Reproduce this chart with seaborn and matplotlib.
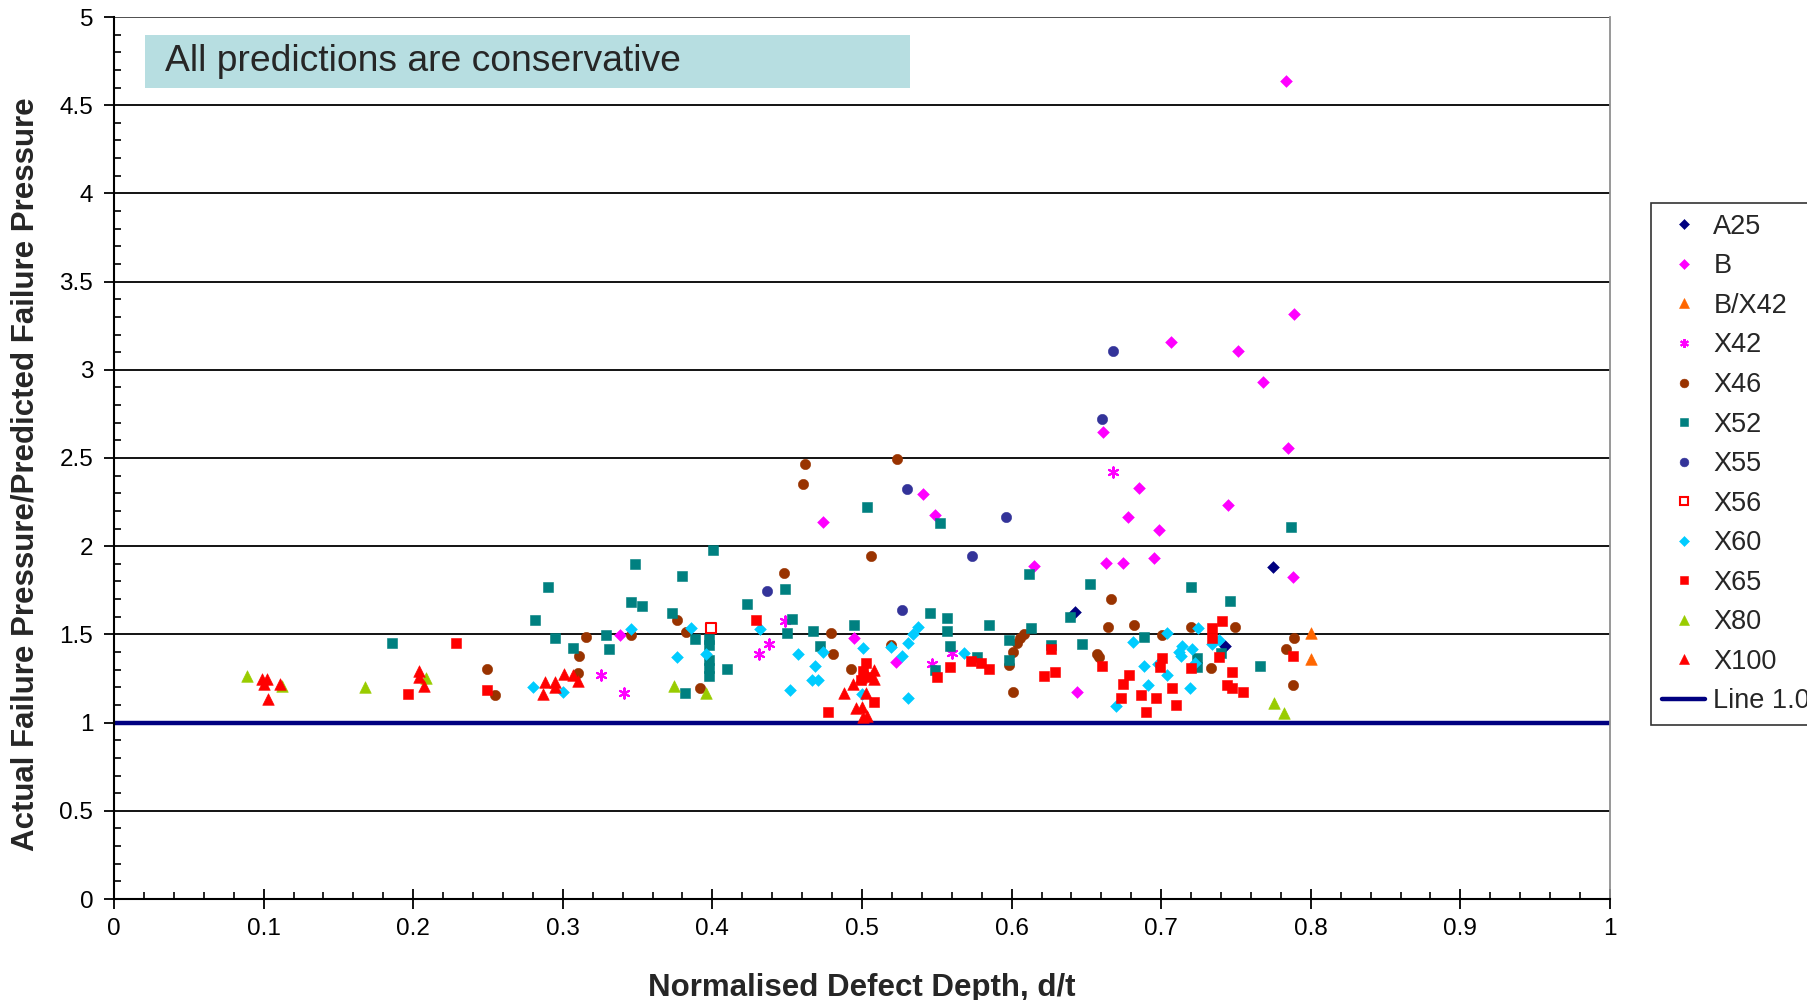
import matplotlib
matplotlib.use("Agg")
import matplotlib.pyplot as plt
from matplotlib.patches import Rectangle
from matplotlib.lines import Line2D
from matplotlib.ticker import MultipleLocator, FuncFormatter
import seaborn as sns
import pandas as pd

# ---- data: normalised defect depth (d/t) and actual/predicted failure pressure ----
a25_x = [0.6424, 0.7745, 0.7426]
a25_y = [1.629, 1.88, 1.434]

b_x = [0.7834, 0.789, 0.7063, 0.7516, 0.768, 0.6613, 0.7845, 0.541, 0.6854, 0.7449,
       0.5488, 0.6776, 0.4741, 0.6985, 0.6742, 0.6633, 0.6954, 0.615, 0.7879, 0.3385,
       0.4949, 0.5225, 0.6435]
b_y = [4.637, 3.315, 3.156, 3.108, 2.933, 2.645, 2.555, 2.296, 2.332, 2.232,
       2.177, 2.167, 2.139, 2.092, 1.907, 1.907, 1.935, 1.89, 1.823, 1.498,
       1.481, 1.342, 1.175]

bx42_x = [0.800, 0.800]
bx42_y = [1.506, 1.36]

x42_x = [0.668, 0.3253, 0.3409, 0.4376, 0.4309, 0.4487, 0.5599, 0.5465]
x42_y = [2.422, 1.268, 1.166, 1.444, 1.389, 1.576, 1.393, 1.332]

x46_x = [0.4619, 0.4608, 0.5236, 0.5058, 0.4476, 0.6667, 0.249, 0.2547, 0.3104, 0.311,
         0.3155, 0.3453, 0.3761, 0.3823, 0.3917, 0.4795, 0.4808, 0.4929, 0.5192, 0.5985,
         0.6012, 0.6034, 0.6056, 0.6083, 0.6007, 0.6569, 0.6584, 0.6647, 0.682, 0.7003,
         0.7197, 0.7493, 0.733, 0.789, 0.7834, 0.7879]
x46_y = [2.464, 2.351, 2.493, 1.944, 1.85, 1.703, 1.304, 1.156, 1.279, 1.377,
         1.487, 1.497, 1.582, 1.515, 1.194, 1.508, 1.387, 1.304, 1.438, 1.327,
         1.398, 1.449, 1.478, 1.502, 1.175, 1.387, 1.37, 1.544, 1.553, 1.497,
         1.544, 1.544, 1.308, 1.481, 1.415, 1.213]

x52_x = [0.1856, 0.2814, 0.2903, 0.2948, 0.307, 0.3286, 0.3309, 0.3453, 0.3532, 0.3485,
         0.3728, 0.3794, 0.3884, 0.3814, 0.4002, 0.3979, 0.3979, 0.3979, 0.3979, 0.3979,
         0.410, 0.4234, 0.4487, 0.4532, 0.4499, 0.4675, 0.4719, 0.4949, 0.5036, 0.5521,
         0.5457, 0.5566, 0.5566, 0.5588, 0.5488, 0.5767, 0.5851, 0.5985, 0.5985, 0.613,
         0.6118, 0.6261, 0.6524, 0.6393, 0.647, 0.6887, 0.7197, 0.746, 0.7397, 0.7241,
         0.7241, 0.766, 0.7868]
x52_y = [1.453, 1.582, 1.767, 1.479, 1.425, 1.498, 1.415, 1.684, 1.663, 1.897,
         1.619, 1.831, 1.472, 1.17, 1.978, 1.472, 1.44, 1.355, 1.308, 1.264,
         1.304, 1.672, 1.757, 1.589, 1.506, 1.519, 1.434, 1.553, 2.22, 2.13,
         1.619, 1.591, 1.521, 1.434, 1.298, 1.373, 1.553, 1.468, 1.355, 1.534,
         1.841, 1.44, 1.786, 1.60, 1.444, 1.487, 1.767, 1.691, 1.393, 1.364,
         1.317, 1.323, 2.111]

x55_x = [0.668, 0.6602, 0.5298, 0.5963, 0.5733, 0.4367, 0.527]
x55_y = [3.108, 2.719, 2.322, 2.164, 1.944, 1.748, 1.636]

x56_x = [0.399]
x56_y = [1.534]

x60_x = [0.2803, 0.300, 0.3453, 0.3859, 0.3761, 0.396, 0.4318, 0.4519, 0.4574, 0.4741,
         0.4686, 0.4663, 0.4708, 0.5004, 0.4997, 0.5192, 0.5267, 0.531, 0.531, 0.5377,
         0.5343, 0.5684, 0.6698, 0.6809, 0.7041, 0.7248, 0.7342, 0.7386, 0.7137, 0.7121,
         0.7135, 0.7208, 0.7226, 0.698, 0.6887, 0.7041, 0.6909, 0.7194]
x60_y = [1.204, 1.175, 1.528, 1.536, 1.37, 1.389, 1.529, 1.185, 1.387, 1.398,
         1.323, 1.241, 1.241, 1.425, 1.16, 1.43, 1.378, 1.453, 1.138, 1.544,
         1.50, 1.396, 1.096, 1.455, 1.51, 1.534, 1.446, 1.468, 1.434, 1.402,
         1.38, 1.415, 1.336, 1.33, 1.323, 1.27, 1.213, 1.194]

x65_x = [0.2284, 0.1965, 0.2495, 0.4289, 0.4775, 0.503, 0.501, 0.505, 0.499, 0.508,
         0.5499, 0.5588, 0.5729, 0.5795, 0.5851, 0.6261, 0.6217, 0.6292, 0.6602, 0.7342,
         0.7342, 0.7406, 0.7384, 0.7197, 0.7004, 0.6992, 0.6787, 0.6742, 0.6731, 0.6865,
         0.6965, 0.6898, 0.7074, 0.7097, 0.747, 0.7437, 0.747, 0.7549, 0.7879]
x65_y = [1.453, 1.164, 1.185, 1.582, 1.062, 1.336, 1.29, 1.26, 1.24, 1.119,
         1.26, 1.313, 1.351, 1.34, 1.304, 1.415, 1.266, 1.287, 1.323, 1.534,
         1.478, 1.574, 1.37, 1.308, 1.364, 1.317, 1.27, 1.219, 1.138, 1.156,
         1.138, 1.062, 1.194, 1.10, 1.285, 1.213, 1.194, 1.175, 1.378]

x80_x = [0.089, 0.112, 0.1675, 0.2083, 0.3745, 0.3957, 0.7756, 0.7823]
x80_y = [1.264, 1.205, 1.20, 1.251, 1.209, 1.17, 1.109, 1.056]

x100_x = [0.099, 0.1025, 0.100, 0.103, 0.111, 0.2039, 0.204, 0.2075, 0.288, 0.287,
          0.2948, 0.2948, 0.301, 0.307, 0.31, 0.488, 0.494, 0.499, 0.503, 0.508,
          0.508, 0.503, 0.4957, 0.5, 0.5009, 0.5033]
x100_y = [1.25, 1.245, 1.22, 1.135, 1.22, 1.294, 1.26, 1.21, 1.232, 1.162,
          1.232, 1.203, 1.275, 1.27, 1.236, 1.17, 1.219, 1.26, 1.28, 1.298,
          1.245, 1.166, 1.081, 1.09, 1.033, 1.04]

line_x = [0.0, 1.0]
line_y = [1.0, 1.0]

x_ticks = [0, 0.1, 0.2, 0.3, 0.4, 0.5, 0.6, 0.7, 0.8, 0.9, 1]
y_ticks = [0, 0.5, 1, 1.5, 2, 2.5, 3, 3.5, 4, 4.5, 5]

# name, x, y, marker, face colour, edge colour, size
series = [
    ("A25", a25_x, a25_y, "D", "#000080", "#000080", 36),
    ("B", b_x, b_y, "D", "#FF00FF", "#FF00FF", 36),
    ("B/X42", bx42_x, bx42_y, "^", "#FF6600", "#FF6600", 70),
    ("X42", x42_x, x42_y, (6, 2, 0), "#FF00FF", "#FF00FF", 55),
    ("X46", x46_x, x46_y, "o", "#993300", "#993300", 55),
    ("X52", x52_x, x52_y, "s", "#008080", "#008080", 50),
    ("X55", x55_x, x55_y, "o", "#333399", "#333399", 55),
    ("X56", x56_x, x56_y, "s", "white", "#FF0000", 42),
    ("X60", x60_x, x60_y, "D", "#00CCFF", "#00CCFF", 36),
    ("X65", x65_x, x65_y, "s", "#FF0000", "#FF0000", 50),
    ("X80", x80_x, x80_y, "^", "#99CC00", "#99CC00", 70),
    ("X100", x100_x, x100_y, "^", "#FF0000", "#FF0000", 70),
]

sns.set_style("white")
plt.rcParams["font.family"] = ["Liberation Sans", "DejaVu Sans"]

fig = plt.figure(figsize=(18.07, 10.0), dpi=100)
ax = fig.add_axes([114 / 1807, 0.101, (1610 - 114) / 1807, 0.882])

# horizontal gridlines at every 0.5
for yv in y_ticks[1:]:
    ax.axhline(yv, color="#000000" if yv < 5 else "#404040", lw=1.3, zorder=1)

handles = []
for name, xs, ys, mk, fc, ec, sz in series:
    df = pd.DataFrame({"d": xs, "p": ys})
    lw = 1.5 if (mk == (6, 2, 0) or fc == "white") else 0.4
    if mk == (6, 2, 0):
        sns.scatterplot(data=df, x="d", y="p", ax=ax, marker=mk, s=sz,
                        color=fc, linewidth=lw, zorder=3)
    else:
        sns.scatterplot(data=df, x="d", y="p", ax=ax, marker=mk, s=sz,
                        facecolor=fc, edgecolor=ec, linewidth=lw, zorder=3)
    ms = (sz ** 0.5) * 0.85
    handles.append(Line2D([], [], linestyle="none", marker=mk, markersize=ms,
                          markerfacecolor=fc, markeredgecolor=ec,
                          markeredgewidth=lw, label=name))

line_df = pd.DataFrame({"d": line_x, "p": line_y})
sns.lineplot(data=line_df, x="d", y="p", ax=ax, color="#000080", lw=3.2, zorder=2)
handles.append(Line2D([], [], color="#000080", lw=3.2, label="Line 1.0"))

ax.set_xlim(0, 1)
ax.set_ylim(0, 5)
ax.set_xticks(x_ticks)
ax.set_yticks(y_ticks)
fmt = FuncFormatter(lambda v, _: ("%g" % round(v, 2)))
ax.xaxis.set_major_formatter(fmt)
ax.yaxis.set_major_formatter(fmt)
ax.xaxis.set_minor_locator(MultipleLocator(0.02))
ax.yaxis.set_minor_locator(MultipleLocator(0.1))
ax.tick_params(axis="x", which="major", direction="inout", length=14, width=1.3,
               labelsize=17.5, pad=7, colors="black")
ax.tick_params(axis="x", which="minor", direction="in", length=5, width=1.2, colors="black")
ax.tick_params(axis="y", which="major", direction="out", length=7, width=1.3,
               labelsize=17.5, pad=8, colors="black")
ax.tick_params(axis="y", which="minor", direction="in", length=5, width=1.2, colors="black")
ax.tick_params(bottom=True, left=True, which="both")

for side in ["left", "bottom"]:
    ax.spines[side].set_color("black")
    ax.spines[side].set_linewidth(1.5)
ax.spines["top"].set_visible(False)
ax.spines["right"].set_color("#909090")
ax.spines["right"].set_linewidth(1.3)

ax.set_xlabel("Normalised Defect Depth, d/t", fontsize=22.5, fontweight="bold")
ax.set_ylabel("Actual Failure Pressure/Predicted Failure Pressure", fontsize=22.5,
              fontweight="bold")
ax.xaxis.label.set_va("center")
ax.yaxis.label.set_va("center")
ax.xaxis.set_label_coords(0.5, -(988 - 899) / 882)
ax.yaxis.set_label_coords(-(114 - 26) / 1496, 0.482)

leg = fig.legend(handles=handles, loc="upper left",
                 bbox_to_anchor=(1651 / 1807, 1 - 203 / 1000),
                 fontsize=19.5, frameon=True, fancybox=False, borderpad=0.4,
                 labelspacing=0.5, handlelength=1.6, handletextpad=0.3,
                 borderaxespad=0)
leg.get_frame().set_edgecolor("black")
leg.get_frame().set_linewidth(1.2)

# annotation box across the top of the plot
fig.patches.append(Rectangle((145 / 1807, 1 - 88 / 1000), 765 / 1807, 53 / 1000,
                             transform=fig.transFigure, facecolor="#B7DEE1",
                             edgecolor="none", zorder=5))
fig.text(165 / 1807, 1 - 61.5 / 1000, "All predictions are conservative",
         fontsize=26.8, va="center", ha="left", zorder=6)

fig.savefig("out.png", dpi=100)
